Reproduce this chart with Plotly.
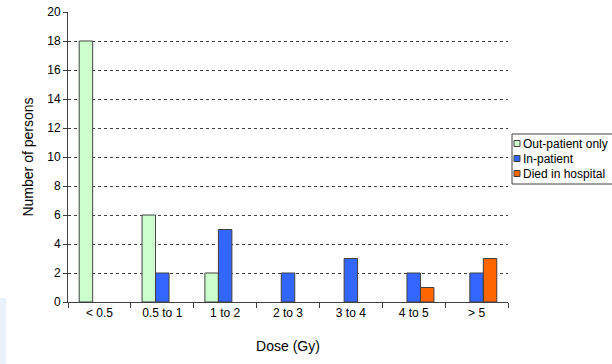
import plotly.graph_objects as go

categories = ["< 0.5", "0.5 to 1", "1 to 2", "2 to 3", "3 to 4", "4 to 5", "> 5"]
out_patient = [18, 6, 2, None, None, None, None]
in_patient = [None, 2, 5, 2, 3, 2, 2]
died = [None, None, None, None, None, 1, 3]
series_names = ["Out-patient only", "In-patient", "Died in hospital"]
series_colors = ["#ccffcc", "#3366ff", "#ff6600"]

L, R, T, B = 68, 104, 12, 62
W, H = 612, 364
PW, PH = W - L - R, H - T - B

def px(x):
    return (x - L) / PW

def py(y):
    return (H - B - y) / PH

fig = go.Figure()
line = dict(color="#404040", width=1)
for name, vals, col in zip(series_names, [out_patient, in_patient, died], series_colors):
    fig.add_bar(x=categories, y=vals, name=name, marker=dict(color=col, line=line))

fig.update_layout(
    width=W, height=H,
    margin=dict(l=L, r=R, t=T, b=B, autoexpand=False),
    paper_bgcolor="white", plot_bgcolor="white",
    font=dict(family="Liberation Sans, Arial, sans-serif", size=12, color="black"),
    barmode="group", bargap=0.356, bargroupgap=0,
    showlegend=False,
    xaxis=dict(title=dict(text="Dose (Gy)", font=dict(size=14), standoff=21),
               showline=True, linecolor="#404040", linewidth=1,
               ticks="outside", ticklen=5, tickcolor="#404040",
               tickson="boundaries", showgrid=False),
    yaxis=dict(title=dict(text="Number of persons", font=dict(size=14), standoff=10),
               range=[0, 20], dtick=2, showline=True, linecolor="#404040", linewidth=1,
               ticks="outside", ticklen=4, tickcolor="#404040",
               showgrid=True, gridcolor="#404040", griddash="dot", gridwidth=1,
               zeroline=False),
)
# decorative strip at left edge
fig.add_shape(type="rect", xref="paper", yref="paper", x0=px(0), x1=px(6),
              y0=py(364), y1=py(298), fillcolor="#e8f1fc", line_width=0, layer="below")

# legend box
fig.add_shape(type="rect", xref="paper", yref="paper", x0=px(512), x1=px(616),
              y0=py(184), y1=py(134), fillcolor="white",
              line=dict(color="#404040", width=1))
rows = [143.5, 158.5, 173.5]
for name, col, ry in zip(series_names, series_colors, rows):
    fig.add_shape(type="rect", xref="paper", yref="paper", x0=px(514), x1=px(520),
                  y0=py(ry + 3), y1=py(ry - 3), fillcolor=col,
                  line=dict(color="#404040", width=1))
    fig.add_annotation(xref="paper", yref="paper", x=px(521), y=py(ry),
                       xanchor="left", yanchor="middle", text=name, showarrow=False,
                       font=dict(size=12))
fig.write_html("out.html", config={"displayModeBar": False},
               post_script="document.body.style.margin='0';document.body.style.padding='0';")
